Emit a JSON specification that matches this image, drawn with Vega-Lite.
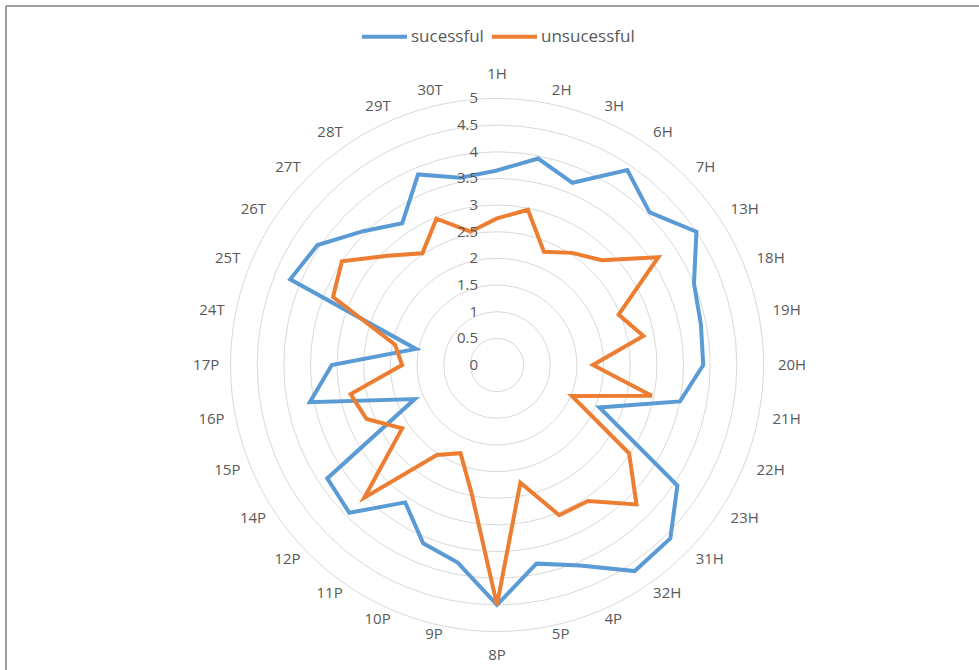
{
  "$schema": "https://vega.github.io/schema/vega-lite/v6.json",
  "width": 973,
  "height": 664,
  "autosize": {"type": "none"},
  "padding": {"left": 6, "top": 6, "right": 0, "bottom": 0},
  "background": "white",
  "view": {"stroke": null},
  "config": {"font": "Open Sans"},
  "datasets": {
    "scores": [
      {"cat": "1H", "sucessful": 3.65, "unsucessful": 2.75},
      {"cat": "2H", "sucessful": 3.95, "unsucessful": 2.97},
      {"cat": "3H", "sucessful": 3.7, "unsucessful": 2.3},
      {"cat": "6H", "sucessful": 4.4, "unsucessful": 2.53},
      {"cat": "7H", "sucessful": 4.05, "unsucessful": 2.78},
      {"cat": "13H", "sucessful": 4.5, "unsucessful": 3.64},
      {"cat": "18H", "sucessful": 4.0, "unsucessful": 2.47},
      {"cat": "19H", "sucessful": 3.9, "unsucessful": 2.8},
      {"cat": "20H", "sucessful": 3.87, "unsucessful": 1.8},
      {"cat": "21H", "sucessful": 3.5, "unsucessful": 2.96},
      {"cat": "22H", "sucessful": 2.08, "unsucessful": 1.52},
      {"cat": "23H", "sucessful": 4.07, "unsucessful": 2.98},
      {"cat": "31H", "sucessful": 4.6, "unsucessful": 3.7},
      {"cat": "32H", "sucessful": 4.65, "unsucessful": 3.07},
      {"cat": "4P", "sucessful": 4.07, "unsucessful": 3.05},
      {"cat": "5P", "sucessful": 3.8, "unsucessful": 2.25},
      {"cat": "8P", "sucessful": 4.5, "unsucessful": 4.5},
      {"cat": "9P", "sucessful": 3.78, "unsucessful": 2.45},
      {"cat": "10P", "sucessful": 3.62, "unsucessful": 1.79},
      {"cat": "11P", "sucessful": 3.1, "unsucessful": 2.03},
      {"cat": "12P", "sucessful": 3.92, "unsucessful": 3.52},
      {"cat": "14P", "sucessful": 3.83, "unsucessful": 2.14},
      {"cat": "15P", "sucessful": 1.67, "unsucessful": 2.65},
      {"cat": "16P", "sucessful": 3.58, "unsucessful": 2.8},
      {"cat": "17P", "sucessful": 3.1, "unsucessful": 1.78},
      {"cat": "24T", "sucessful": 1.55, "unsucessful": 1.95},
      {"cat": "25T", "sucessful": 4.2, "unsucessful": 3.33},
      {"cat": "26T", "sucessful": 4.05, "unsucessful": 3.5},
      {"cat": "27T", "sucessful": 3.55, "unsucessful": 2.9},
      {"cat": "28T", "sucessful": 3.2, "unsucessful": 2.52},
      {"cat": "29T", "sucessful": 3.87, "unsucessful": 2.97},
      {"cat": "30T", "sucessful": 3.58, "unsucessful": 2.55}
    ],
    "levels": [
      {"level": 0}, {"level": 0.5}, {"level": 1}, {"level": 1.5}, {"level": 2},
      {"level": 2.5}, {"level": 3}, {"level": 3.5}, {"level": 4}, {"level": 4.5}, {"level": 5}
    ]
  },
  "layer": [
    {
      "data": {"name": "levels"},
      "transform": [{"filter": "datum.level > 0"}],
      "mark": {"type": "arc", "filled": false, "stroke": "#d9d9d9", "strokeWidth": 1, "theta": 0, "theta2": 6.2832},
      "encoding": {
        "x": {"datum": 0, "type": "quantitative", "scale": {"domain": [-9.212, 9.043], "nice": false, "zero": false}, "axis": null},
        "y": {"datum": 0, "type": "quantitative", "scale": {"domain": [-5.722, 6.735], "nice": false, "zero": false}, "axis": null},
        "radius": {"field": "level", "type": "quantitative", "stack": null, "scale": {"type": "linear", "domain": [0, 5], "range": [0, 266.5], "zero": true}, "legend": null}
      }
    },
    {
      "data": {"name": "levels"},
      "transform": [{"filter": "datum.level == 0"}],
      "mark": {"type": "rule", "stroke": "#7f7f7f", "strokeWidth": 1.5},
      "encoding": {
        "x": {"datum": -9.212, "type": "quantitative", "scale": {"domain": [-9.212, 9.043], "nice": false, "zero": false}, "axis": null}
      }
    },
    {
      "data": {"name": "levels"},
      "transform": [{"filter": "datum.level == 0"}],
      "mark": {"type": "rule", "stroke": "#7f7f7f", "strokeWidth": 1.5},
      "encoding": {
        "y": {"datum": 6.735, "type": "quantitative", "scale": {"domain": [-5.722, 6.735], "nice": false, "zero": false}, "axis": null}
      }
    },
    {
      "data": {"name": "scores"},
      "transform": [
        {"window": [{"op": "row_number", "as": "idx"}]},
        {"fold": ["sucessful", "unsucessful"], "as": ["series", "value"]},
        {"calculate": "(datum.idx - 1) * 2 * PI / 32", "as": "ang"},
        {"calculate": "datum.value * sin(datum.ang)", "as": "px"},
        {"calculate": "datum.value * cos(datum.ang)", "as": "py"}
      ],
      "mark": {"type": "line", "interpolate": "linear-closed", "strokeWidth": 4},
      "encoding": {
        "x": {"field": "px", "type": "quantitative", "scale": {"domain": [-9.212, 9.043], "nice": false, "zero": false}, "axis": null},
        "y": {"field": "py", "type": "quantitative", "scale": {"domain": [-5.722, 6.735], "nice": false, "zero": false}, "axis": null},
        "order": {"field": "idx", "type": "quantitative"},
        "color": {
          "field": "series",
          "type": "nominal",
          "scale": {"domain": ["sucessful", "unsucessful"], "range": ["#5B9BD5", "#ED7D31"]},
          "legend": {
            "orient": "none",
            "legendX": 354,
            "legendY": 6,
            "direction": "horizontal",
            "title": null,
            "symbolType": "stroke",
            "symbolSize": 2025,
            "symbolStrokeWidth": 4,
            "labelFontSize": 17,
            "labelColor": "#595959",
            "labelFont": "Open Sans",
            "labelOffset": 2,
            "columnPadding": 0
          }
        }
      }
    },
    {
      "data": {"name": "scores"},
      "transform": [
        {"window": [{"op": "row_number", "as": "idx"}]},
        {"filter": "datum.idx >= 2 && datum.idx <= 16"},
        {"calculate": "(datum.idx - 1) * 2 * PI / 32", "as": "ang"},
        {"calculate": "5.27 * sin(datum.ang)", "as": "lx"},
        {"calculate": "(cos(datum.ang) > 0 ? 5.26 : 5.15) * cos(datum.ang)", "as": "ly"}
      ],
      "mark": {"type": "text", "fontSize": 15, "color": "#595959", "align": "left", "baseline": "middle"},
      "encoding": {
        "x": {"field": "lx", "type": "quantitative", "scale": {"domain": [-9.212, 9.043], "nice": false, "zero": false}, "axis": null},
        "y": {"field": "ly", "type": "quantitative", "scale": {"domain": [-5.722, 6.735], "nice": false, "zero": false}, "axis": null},
        "text": {"field": "cat", "type": "nominal"}
      }
    },
    {
      "data": {"name": "scores"},
      "transform": [
        {"window": [{"op": "row_number", "as": "idx"}]},
        {"filter": "datum.idx >= 18"},
        {"calculate": "(datum.idx - 1) * 2 * PI / 32", "as": "ang"},
        {"calculate": "5.21 * sin(datum.ang)", "as": "lx"},
        {"calculate": "(cos(datum.ang) > 0 ? 5.26 : 5.15) * cos(datum.ang)", "as": "ly"}
      ],
      "mark": {"type": "text", "fontSize": 15, "color": "#595959", "align": "right", "baseline": "middle"},
      "encoding": {
        "x": {"field": "lx", "type": "quantitative", "scale": {"domain": [-9.212, 9.043], "nice": false, "zero": false}, "axis": null},
        "y": {"field": "ly", "type": "quantitative", "scale": {"domain": [-5.722, 6.735], "nice": false, "zero": false}, "axis": null},
        "text": {"field": "cat", "type": "nominal"}
      }
    },
    {
      "data": {"name": "scores"},
      "transform": [
        {"window": [{"op": "row_number", "as": "idx"}]},
        {"filter": "datum.idx == 1"}
      ],
      "mark": {"type": "text", "fontSize": 15, "color": "#595959", "align": "center", "baseline": "bottom"},
      "encoding": {
        "x": {"datum": 0, "type": "quantitative", "scale": {"domain": [-9.212, 9.043], "nice": false, "zero": false}, "axis": null},
        "y": {"datum": 5.31, "type": "quantitative", "scale": {"domain": [-5.722, 6.735], "nice": false, "zero": false}, "axis": null},
        "text": {"field": "cat", "type": "nominal"}
      }
    },
    {
      "data": {"name": "scores"},
      "transform": [
        {"window": [{"op": "row_number", "as": "idx"}]},
        {"filter": "datum.idx == 17"}
      ],
      "mark": {"type": "text", "fontSize": 15, "color": "#595959", "align": "center", "baseline": "top"},
      "encoding": {
        "x": {"datum": 0, "type": "quantitative", "scale": {"domain": [-9.212, 9.043], "nice": false, "zero": false}, "axis": null},
        "y": {"datum": -5.31, "type": "quantitative", "scale": {"domain": [-5.722, 6.735], "nice": false, "zero": false}, "axis": null},
        "text": {"field": "cat", "type": "nominal"}
      }
    },
    {
      "data": {"name": "levels"},
      "mark": {"type": "text", "fontSize": 15, "color": "#595959", "align": "right", "baseline": "middle", "dx": -19},
      "encoding": {
        "x": {"datum": 0, "type": "quantitative", "scale": {"domain": [-9.212, 9.043], "nice": false, "zero": false}, "axis": null},
        "y": {"field": "level", "type": "quantitative", "scale": {"domain": [-5.722, 6.735], "nice": false, "zero": false}, "axis": null},
        "text": {"field": "level", "type": "quantitative", "format": "~g"}
      }
    }
  ]
}
